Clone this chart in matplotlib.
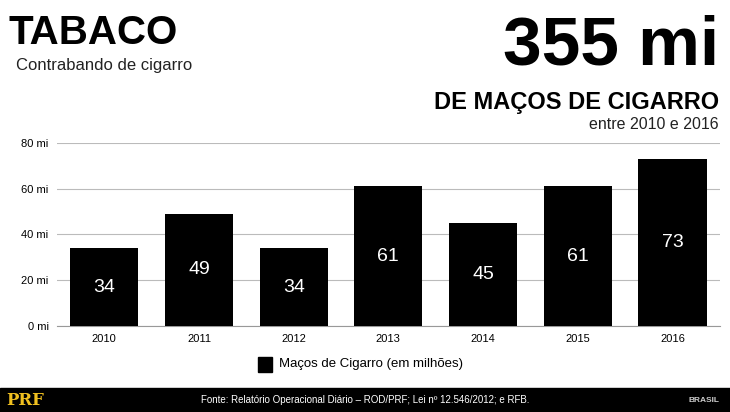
import matplotlib.pyplot as plt

years = ['2010', '2011', '2012', '2013', '2014', '2015', '2016']
values = [34, 49, 34, 61, 45, 61, 73]
ytick_vals = [0, 20, 40, 60, 80]
ytick_labels = ['0 mi', '20 mi', '40 mi', '60 mi', '80 mi']

plt.rcParams['font.family'] = 'Liberation Sans'
fig = plt.figure(figsize=(7.3, 4.12), dpi=100)
ax = fig.add_axes([0.078, 0.209, 0.908, 0.444])

x = range(len(years))
ax.bar(x, values, width=0.72, color='black', zorder=3)
for i, v in zip(x, values):
    ax.text(i, v / 2, str(v), color='white', ha='center', va='center', fontsize=14, zorder=4)

ax.set_xlim(-0.5, 6.5)
ax.set_ylim(0, 80)
ax.set_xticks(list(x))
ax.set_xticklabels(years, fontsize=8)
ax.set_yticks(ytick_vals)
ax.set_yticklabels(ytick_labels, fontsize=8)
ax.grid(axis='y', color='#bbbbbb', linewidth=0.8, zorder=0)
ax.tick_params(length=0, pad=6)
for s in ['top', 'right', 'left']:
    ax.spines[s].set_visible(False)
ax.spines['bottom'].set_color('#999999')

# legend
fig.patches.append(plt.Rectangle((0.353, 0.098), 0.02, 0.036, color='black', transform=fig.transFigure))
fig.text(0.382, 0.116, 'Maços de Cigarro (em milhões)', fontsize=9.5, va='center')

# titles
fig.text(0.012, 0.965, 'TABACO', fontsize=29, fontweight='bold', va='top')
fig.text(0.022, 0.86, 'Contrabando de cigarro', fontsize=12, va='top', color='#222222')
fig.text(0.985, 0.965, '355 mi', fontsize=50, fontweight='bold', va='top', ha='right')
fig.text(0.985, 0.78, 'DE MAÇOS DE CIGARRO', fontsize=17, fontweight='bold', va='top', ha='right')
fig.text(0.985, 0.715, 'entre 2010 e 2016', fontsize=11.5, va='top', ha='right', color='#222222')

# footer
fig.patches.append(plt.Rectangle((0, 0), 1, 0.058, color='black', transform=fig.transFigure))
fig.text(0.008, 0.028, 'PRF', fontsize=12, fontweight='bold', color='#f0c020', va='center', family='DejaVu Serif')
fig.text(0.5, 0.028, 'Fonte: Relatório Operacional Diário – ROD/PRF; Lei nº 12.546/2012; e RFB.',
         fontsize=7, color='white', va='center', ha='center')
fig.text(0.985, 0.028, 'BRASIL', fontsize=6, color='#cccccc', va='center', ha='right', fontweight='bold')

fig.savefig('out.png', dpi=100)
